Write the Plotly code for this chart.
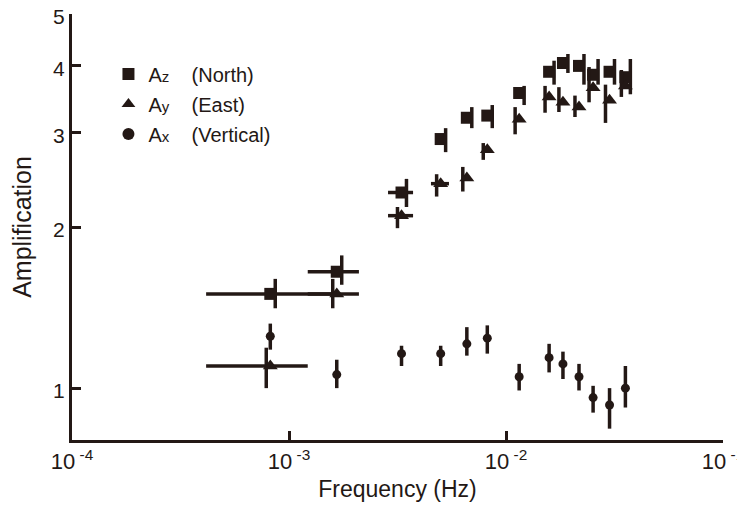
import plotly.graph_objects as go

# frequencies (Hz), shared by all three components
freq = [8.2e-4, 1.66e-3, 3.3e-3, 5.0e-3, 6.6e-3, 8.2e-3, 1.15e-2,
        1.58e-2, 1.83e-2, 2.17e-2, 2.52e-2, 3.0e-2, 3.55e-2]

# Az (North)
az = [1.50, 1.65, 2.32, 2.92, 3.20, 3.23, 3.56, 3.90, 4.05, 4.00, 3.85, 3.90, 3.81]
az_hi = [1.60, 1.77, 2.46, 3.06, 3.35, 3.38, 3.67, 4.09, 4.21, 4.21, 4.12, 4.12, 4.12]
az_lo = [1.41, 1.56, 2.18, 2.76, 3.06, 3.06, 3.38, 3.69, 3.88, 3.69, 3.69, 3.69, 3.54]
az_f_lo = [4.15e-4, 1.22e-3, 2.86e-3]
az_f_hi = [1.61e-3, 2.10e-3, 3.73e-3]

# Ay (East)
ay = [1.10, 1.50, 2.10, 2.41, 2.47, 2.79, 3.18, 3.50, 3.42, 3.35, 3.64, 3.45, 3.67]
ay_hi = [1.19, 1.60, 2.18, 2.51, 2.59, 2.87, 3.35, 3.67, 3.65, 3.52, 3.98, 3.69, 3.93]
ay_lo = [1.00, 1.41, 1.99, 2.28, 2.33, 2.67, 2.98, 3.27, 3.28, 3.21, 3.42, 3.13, 3.50]
ay_f_lo = [4.15e-4, 1.22e-3, 2.86e-3, 4.51e-3]
ay_f_hi = [1.22e-3, 2.10e-3, 3.73e-3, 5.46e-3]

# Ax (Vertical)
ax = [1.25, 1.06, 1.16, 1.16, 1.21, 1.24, 1.05, 1.14, 1.11, 1.05, 0.96, 0.93, 1.00]
ax_hi = [1.32, 1.13, 1.20, 1.20, 1.30, 1.31, 1.11, 1.21, 1.17, 1.11, 1.01, 1.00, 1.10]
ax_lo = [1.18, 1.00, 1.10, 1.10, 1.15, 1.16, 0.99, 1.07, 1.04, 0.99, 0.90, 0.84, 0.92]

x_tickvals = [1e-4, 1e-3, 1e-2, 1e-1]
x_ticktext = ["10<sup> -4</sup>", "10<sup> -3</sup>", "10<sup> -2</sup>", "10<sup> -1</sup>"]
y_tickvals = [1, 2, 3, 4, 5]

INK = "#231815"
FONT = "Arial, Liberation Sans, sans-serif"


def xerr(vals, f_lo, f_hi):
    plus = [0] * len(vals)
    minus = [0] * len(vals)
    for i, (lo, hi) in enumerate(zip(f_lo, f_hi)):
        plus[i] = hi - vals[i]
        minus[i] = vals[i] - lo
    return plus, minus


fig = go.Figure()

sub = "<span style='font-size:15px'>%s</span>"
gap = "\u00a0" * 4
series = [
    ("A" + sub % "z" + gap + "(North)", az, az_hi, az_lo, az_f_lo, az_f_hi, "square", 12, 1.054),
    ("A" + sub % "y" + gap + "(East)", ay, ay_hi, ay_lo, ay_f_lo, ay_f_hi, "triangle-up", 13, 0.958),
    ("A" + sub % "x" + gap + "(Vertical)", ax, ax_hi, ax_lo, [], [], "circle", 9, 1.0),
]

for name, vals, hi, lo, f_lo, f_hi, symbol, size, shift in series:
    # vertical error bars, drawn slightly beside the marker like the original
    fig.add_trace(go.Scatter(
        x=[f * shift for f in freq], y=vals, mode="markers",
        marker=dict(size=1, opacity=0),
        error_y=dict(type="data", symmetric=False,
                     array=[h - v for h, v in zip(hi, vals)],
                     arrayminus=[v - l for v, l in zip(vals, lo)],
                     color=INK, thickness=3.5, width=0),
        showlegend=False, hoverinfo="skip",
    ))
    plus, minus = xerr(freq, f_lo, f_hi)
    fig.add_trace(go.Scatter(
        x=freq, y=vals, mode="markers", name=name,
        marker=dict(symbol=symbol, size=size, color=INK),
        error_x=dict(type="data", symmetric=False, array=plus, arrayminus=minus,
                     color=INK, thickness=3.5, width=0),
        legendgroup=name,
    ))

# the page body adds an 8px margin, so the figure is 8px smaller each way
fig.update_layout(
    width=737, height=500,
    margin=dict(l=64, r=22, t=6, b=68),
    paper_bgcolor="white", plot_bgcolor="white",
    font=dict(family=FONT, color=INK, size=20),
    legend=dict(x=0.056, y=0.905, xanchor="left", yanchor="top",
                font=dict(size=20), tracegroupgap=1, itemsizing="constant",
                bgcolor="rgba(0,0,0,0)"),
    xaxis=dict(type="log", range=[-4, -1], tickvals=x_tickvals, ticktext=x_ticktext,
               ticks="inside", ticklen=9, tickwidth=3, tickcolor=INK, automargin=False,
               showline=True, linewidth=3, linecolor=INK, showgrid=False, zeroline=False,
               tickfont=dict(size=22), ticklabeloverflow="allow",
               title=dict(text="Frequency (Hz)", font=dict(size=23), standoff=8)),
    yaxis=dict(type="log", range=[-0.0969, 0.699], tickvals=y_tickvals,
               ticks="inside", ticklen=9, tickwidth=3, tickcolor=INK, automargin=False,
               showline=True, linewidth=3, linecolor=INK, showgrid=False, zeroline=False,
               tickfont=dict(size=21), ticklabeloverflow="allow", ticklabelshift=3,
               title=dict(text="Amplification", font=dict(size=25), standoff=16)),
)

fig.write_html("out.html")
